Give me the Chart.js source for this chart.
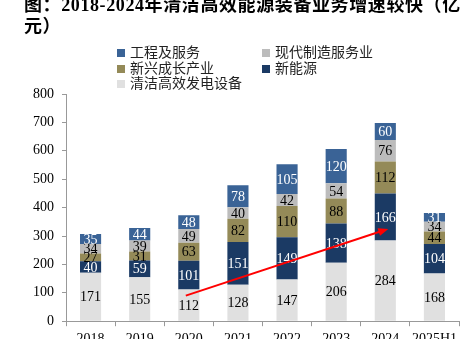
<!DOCTYPE html>
<html>
<head>
<meta charset="utf-8">
<script src="https://cdn.jsdelivr.net/npm/chart.js@4/dist/chart.umd.min.js"></script>
<style>
    html, body { margin: 0; padding: 0; background: #fff; overflow: hidden; }
    #wrap { position: relative; width: 464px; height: 358px; }
    #title {
        position: absolute; left: 24px; top: -5px;
        font: bold 18px "Liberation Serif", "Noto Sans CJK SC", serif;
        line-height: 21px; letter-spacing: 0.6px; color: #000; white-space: nowrap;
    }
    #legend {
        position: absolute; left: 117px; top: 44px;
        display: grid; grid-template-columns: 145px 150px;
        font: 14px "Noto Sans CJK SC", sans-serif; line-height: 15.5px; color: #222;
    }
    #legend span.box { display: inline-block; width: 8px; height: 8px; margin-right: 5px; vertical-align: 0px; }
</style>
</head>
<body>
<div id="wrap">
    <canvas id="energyChart"></canvas>
    <div id="title">图：2018-2024年清洁高效能源装备业务增速较快（亿<br>元）</div>
    <div id="legend"></div>
</div>
<script>
const years = ['2018', '2019', '2020', '2021', '2022', '2023', '2024', '2025H1'];

const cleanPower = [171, 155, 112, 128, 147, 206, 284, 168];   // 清洁高效发电设备
const newEnergy = [40, 59, 101, 151, 149, 138, 166, 104];      // 新能源
const emerging = [27, 31, 63, 82, 110, 88, 112, 44];           // 新兴成长产业
const modernService = [34, 39, 49, 40, 42, 54, 76, 34];        // 现代制造服务业
const engineering = [35, 44, 48, 78, 105, 120, 60, 31];        // 工程及服务

const yTicks = [0, 100, 200, 300, 400, 500, 600, 700, 800];

// trend arrow: from 2020 to 2024 (category, value)
const arrowFrom = ['2020', 90];
const arrowTo = ['2024', 325];

const legendOrder = ['工程及服务', '现代制造服务业', '新兴成长产业', '新能源', '清洁高效发电设备'];

const datasets = [
    { label: '清洁高效发电设备', data: cleanPower, backgroundColor: '#e0e0e0', labelColor: '#000' },
    { label: '新能源', data: newEnergy, backgroundColor: '#1b3a64', labelColor: '#fff' },
    { label: '新兴成长产业', data: emerging, backgroundColor: '#948a58', labelColor: '#000' },
    { label: '现代制造服务业', data: modernService, backgroundColor: '#bcbcbc', labelColor: '#000' },
    { label: '工程及服务', data: engineering, backgroundColor: '#3a6396', labelColor: '#fff' }
];

const serif = '"Liberation Serif", "Times New Roman", serif';

// value in the middle of every segment
const segmentLabels = {
    id: 'segmentLabels',
    afterDatasetsDraw(chart) {
        const ctx = chart.ctx;
        ctx.save();
        ctx.font = '14px ' + serif;
        ctx.textAlign = 'center';
        ctx.textBaseline = 'middle';
        chart.data.datasets.forEach((ds, i) => {
            chart.getDatasetMeta(i).data.forEach((bar, j) => {
                ctx.fillStyle = ds.labelColor;
                ctx.fillText(ds.data[j], bar.x, (bar.y + bar.base) / 2 + 1);
            });
        });
        ctx.restore();
    }
};

const trendArrow = {
    id: 'trendArrow',
    afterDatasetsDraw(chart) {
        const xs = chart.scales.x, ys = chart.scales.y;
        const x1 = xs.getPixelForValue(years.indexOf(arrowFrom[0])) - 3;
        const y1 = ys.getPixelForValue(arrowFrom[1]);
        const x2 = xs.getPixelForValue(years.indexOf(arrowTo[0])) + 3;
        const y2 = ys.getPixelForValue(arrowTo[1]);
        const a = Math.atan2(y2 - y1, x2 - x1);
        const ctx = chart.ctx;
        ctx.save();
        ctx.strokeStyle = '#ff0000';
        ctx.fillStyle = '#ff0000';
        ctx.lineWidth = 2;
        ctx.beginPath();
        ctx.moveTo(x1, y1);
        ctx.lineTo(x2 - 6 * Math.cos(a), y2 - 6 * Math.sin(a));
        ctx.stroke();
        ctx.beginPath();
        ctx.moveTo(x2, y2);
        ctx.lineTo(x2 - 10 * Math.cos(a) + 4 * Math.sin(a), y2 - 10 * Math.sin(a) - 4 * Math.cos(a));
        ctx.lineTo(x2 - 10 * Math.cos(a) - 4 * Math.sin(a), y2 - 10 * Math.sin(a) + 4 * Math.cos(a));
        ctx.closePath();
        ctx.fill();
        ctx.restore();
    }
};

const chart = new Chart(document.getElementById('energyChart'), {
    type: 'bar',
    data: { labels: years, datasets: datasets },
    options: {
        responsive: true,
        maintainAspectRatio: false,
        animation: false,
        layout: { padding: { top: 94, left: 25, right: 5, bottom: 5 } },
        datasets: { bar: { categoryPercentage: 1, barPercentage: 0.43 } },
        plugins: {
            legend: { display: false },
            tooltip: { enabled: false }
        },
        scales: {
            x: {
                stacked: true,
                grid: { offset: true, drawOnChartArea: false, tickLength: 5, color: '#999' },
                border: { color: '#999' },
                ticks: {
                    color: '#000', padding: 5, maxRotation: 0, minRotation: 0, autoSkip: false,
                    font: { family: serif, size: 14 }
                }
            },
            y: {
                stacked: true,
                min: 0,
                max: 800,
                afterBuildTicks(axis) { axis.ticks = yTicks.map(v => ({ value: v })); },
                grid: { drawOnChartArea: false, tickLength: 4, color: '#999' },
                border: { color: '#999' },
                ticks: { color: '#000', padding: 8, font: { family: serif, size: 14 } }
            }
        }
    },
    plugins: [segmentLabels, trendArrow]
});

// two-column legend built from the datasets
const legendEl = document.getElementById('legend');
legendOrder.forEach(name => {
    const ds = datasets.find(d => d.label === name);
    const item = document.createElement('div');
    item.innerHTML = '<span class="box" style="background:' + ds.backgroundColor + '"></span>' + ds.label;
    legendEl.appendChild(item);
});
</script>
</body>
</html>
